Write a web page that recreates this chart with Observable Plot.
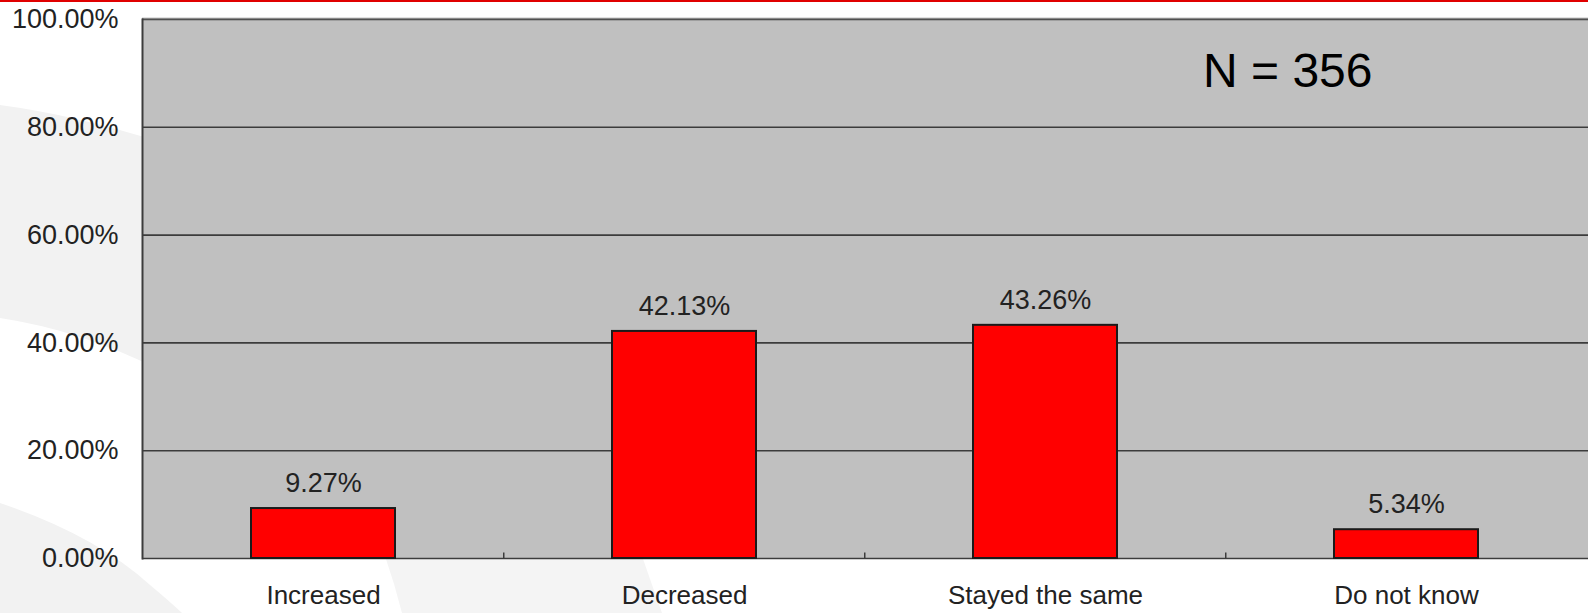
<!DOCTYPE html>
<html>
<head>
<meta charset="utf-8">
<script src="https://cdn.jsdelivr.net/npm/d3@7"></script>
<script src="https://cdn.jsdelivr.net/npm/@observablehq/plot@0.6"></script>
<style>
  html, body { margin: 0; padding: 0; background: #ffffff; overflow: hidden; }
  #wrap { position: relative; width: 1588px; height: 613px; }
  #deco { position: absolute; left: 0; top: 0; z-index: 0; }
  #topline { position: absolute; left: 0; top: 0; width: 1588px; height: 2px; background: #e00000; z-index: 2; }
  #chart { position: absolute; left: 0; top: 0; z-index: 1; }
  #chart svg { display: block; }
</style>
</head>
<body>
<div id="wrap">
  <svg id="deco" width="1588" height="613" xmlns="http://www.w3.org/2000/svg">
    <path d="M0,105 Q75,115 160,142 L160,370 Q80,330 0,318 Z" fill="#f2f2f2"/>
    <path d="M0,503 Q95,535 150,585 Q168,600 182,613 L0,613 Z" fill="#f2f2f2"/>
    <path d="M385,556 L642,556 Q652,585 662,613 L402,613 Q395,585 385,556 Z" fill="#f4f4f4"/>
  </svg>
  <div id="topline"></div>
  <div id="chart"></div>
</div>
<script>
const categories = ["Increased", "Decreased", "Stayed the same", "Do not know"];
const values = [9.27, 42.13, 43.26, 5.34];
const yTicks = [0, 20, 40, 60, 80, 100];
const noteText = ["N = 356"];

const data = categories.map((c, i) => ({cat: c, value: values[i]}));

const W = 1588, H = 613, ML = 142, MR = 0, MT = 19, MB = 55;
const step = (W - ML - MR) / categories.length;

const chart = Plot.plot({
  width: W,
  height: H,
  marginLeft: ML,
  marginRight: MR,
  marginTop: MT,
  marginBottom: MB,
  style: {fontFamily: "'Liberation Sans', Arial, sans-serif", fontSize: "27px", color: "#222", background: "transparent"},
  x: {domain: categories, paddingInner: 0.6, paddingOuter: 0.3, label: null},
  y: {domain: [0, 100], label: null},
  marks: [
    Plot.frame({fill: "#c0c0c0"}),
    Plot.ruleY(yTicks, {stroke: "#3c3c3c", strokeWidth: 1.6}),
    Plot.ruleY([100], {stroke: "#8a8a8a", strokeWidth: 1.5, dy: -1}),
    Plot.frame({anchor: "left", stroke: "#3c3c3c", strokeWidth: 2}),
    Plot.ruleX(categories.slice(1), {x: d => d, dx: -step / 2, y1: 0, y2: 1, stroke: "#3c3c3c", strokeWidth: 1.5}),
    Plot.barY(data, {x: "cat", y: "value", fill: "#ff0000", stroke: "#1a1a1a", strokeWidth: 2}),
    Plot.text(data, {x: "cat", y: "value", text: d => d.value.toFixed(2) + "%", dy: -25, fontSize: 27, fill: "#222"}),
    Plot.text(noteText, {frameAnchor: "top-right", text: d => d, textAnchor: "end", lineAnchor: "top", dx: -216, dy: 33, fontSize: 48, fill: "#000"}),
    Plot.axisY({ticks: yTicks, tickFormat: d => d.toFixed(2) + "%", tickSize: 0, tickPadding: 24, fontSize: 27, label: null}),
    Plot.axisX({tickSize: 0, tickPadding: 27, fontSize: 26, label: null})
  ]
});
document.getElementById("chart").appendChild(chart);
</script>
</body>
</html>
